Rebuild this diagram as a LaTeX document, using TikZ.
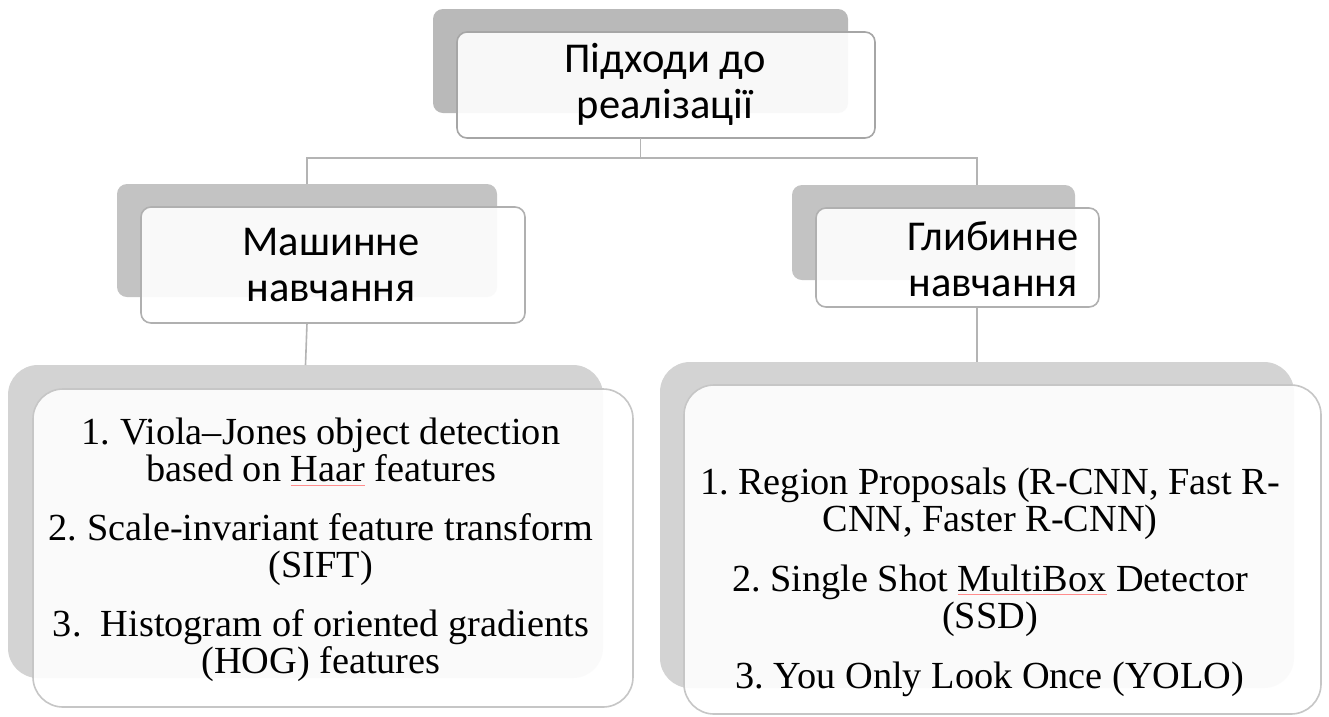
\documentclass[tikz,border=0pt]{standalone}
\usepackage{fontspec}
\setmainfont{Liberation Serif}
\newfontfamily\calfont{Carlito}
\definecolor{backA}{HTML}{B9B9B9}
\definecolor{backB}{HTML}{C3C3C3}
\definecolor{backC}{HTML}{D3D3D3}
\definecolor{edgeA}{HTML}{A6A6A6}
\definecolor{edgeB}{HTML}{B0B0B0}
\definecolor{edgeC}{HTML}{C6C6C6}
\definecolor{connc}{HTML}{B4B4B4}
\newcommand\spl[1]{\setbox0=\hbox{#1}\leavevmode\rlap{\textcolor{red!45}{\rule[-4pt]{\wd0}{0.7pt}}}\box0\relax}
\begin{document}
\frenchspacing
\begin{tikzpicture}[x=1pt,y=-1pt,
  backbox/.style={rounded corners=#1, inner sep=0pt, outer sep=0pt, draw=none},
  frontbox/.style={rounded corners=#1, inner sep=0pt, outer sep=0pt, fill=white, fill opacity=0.9, line width=1.6pt},
  conn/.style={draw=connc, line width=1.6pt},
  headtxt/.style={font=\calfont\fontsize{42.5}{46}\selectfont, align=center, text=black, inner sep=0pt},
  listtxt/.style={font=\frenchspacing\fontsize{38.3}{37.5}\selectfont, align=center, text=black, inner sep=0pt}]
\useasboundingbox (0,0) rectangle (1329,716);
\fill[white] (0,0) rectangle (1329,716);
% level 1
\node[backbox=10pt, fill=backA, minimum width=415pt, minimum height=104pt] (tb) at (640.5,61) {};
\node[frontbox=10pt, draw=edgeA, minimum width=418pt, minimum height=106pt] (tf) at (666,85) {};
% level 2
\node[backbox=10pt, fill=backB, minimum width=380pt, minimum height=113pt] (lb) at (307,240.5) {};
\node[backbox=10pt, fill=backB, minimum width=283pt, minimum height=95pt] (rb) at (933.5,232.5) {};
% level 3
\node[backbox=30pt, fill=backC, minimum width=595pt, minimum height=313pt] (lb3) at (305.5,521.5) {};
\node[backbox=30pt, fill=backC, minimum width=634pt, minimum height=326pt] (rb3) at (977,525) {};
% connectors
\coordinate (j) at (tb.south |- 0,158);
\draw[conn] (tb.south |- tf.south) -- (j);
\draw[conn] (lb.north) |- (j) -| (rb3.north |- rb.north);
\draw[conn] (lb.south |- 0,323) -- (lb3.north);
\draw[conn] (rb3.north |- 0,307) -- (rb3.north);
% fronts
\node[frontbox=10pt, draw=edgeB, minimum width=384pt, minimum height=116pt] (lf) at (333,265) {};
\node[frontbox=10pt, draw=edgeB, minimum width=283pt, minimum height=99pt] (rf) at (957.5,257.5) {};
\node[frontbox=30pt, draw=edgeC, minimum width=600pt, minimum height=318pt] (lf3) at (333,548) {};
\node[frontbox=30pt, draw=edgeC, minimum width=637pt, minimum height=329pt] (rf3) at (1002.5,549.5) {};
% texts
\node[headtxt] (t1) at (665,84) {Підходи до\\реалізації};
\node[headtxt] (t2) at (331,265) {Машинне\\навчання};
\node[headtxt] (t3) at (993,259) {Глибинне\\навчання};
\node[listtxt] (t4) at (321,550) {1. Viola–Jones object detection\\based on \spl{Haar} features\\[21pt]2. Scale-invariant feature transform\\(SIFT)\\[21pt]3.\ \ Histogram of oriented gradients\\(HOG) features};
\node[listtxt] (t5) at (990,582) {1. Region Proposals (R-CNN, Fast R-\\CNN, Faster R-CNN)\\[22pt]2. Single Shot \spl{MultiBox} Detector\\(SSD)\\[22pt]3. You Only Look Once (YOLO)};
\end{tikzpicture}
\end{document}
